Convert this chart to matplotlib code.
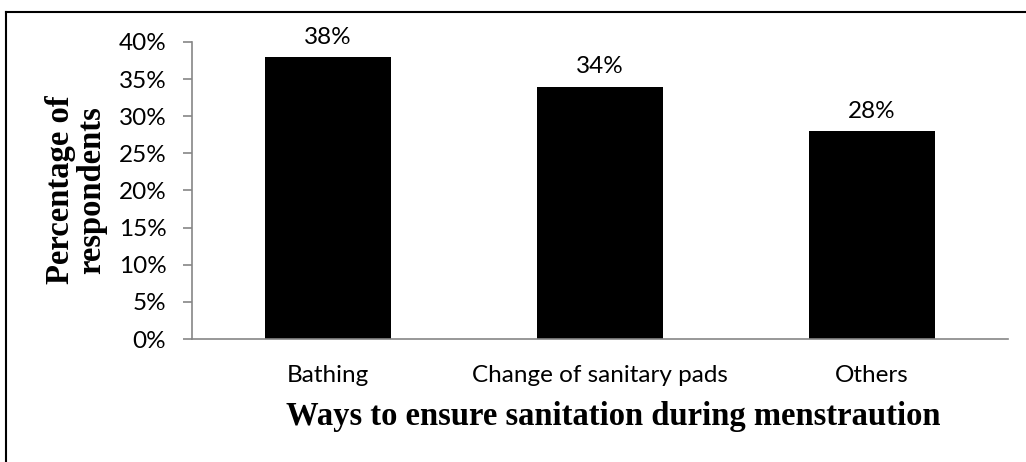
import matplotlib
matplotlib.use("Agg")
import matplotlib.pyplot as plt
from matplotlib.lines import Line2D

categories = ["Bathing", "Change of sanitary pads", "Others"]
values = [38, 34, 28]
yticks = [0, 5, 10, 15, 20, 25, 30, 35, 40]
ytick_labels = [f"{v}%" for v in yticks]

W, H = 1026, 462
fig = plt.figure(figsize=(W / 100, H / 100), dpi=100)
ax = fig.add_axes([192 / W, 1 - 339 / H, (1008 - 192) / W, (339 - 42) / H])

x = list(range(len(categories)))
bars = ax.bar(x, values, width=0.46, color="black")
ax.set_xlim(-0.5, len(categories) - 0.5)
ax.set_ylim(0, 40)
ax.set_yticks(yticks)
ax.set_yticklabels(ytick_labels)
ax.set_xticks(x)
ax.set_xticklabels(categories)

fam = ["Lato", "DejaVu Sans"]
fs = 17.5
for lab in ax.get_yticklabels() + ax.get_xticklabels():
    lab.set_fontfamily(fam)
    lab.set_fontsize(fs)

for b, v in zip(bars, values):
    ax.annotate(f"{v}%", (b.get_x() + b.get_width() / 2, v), xytext=(0, 9.4),
                textcoords="offset points", ha="center", va="baseline",
                family=fam, fontsize=fs)

for s in ["top", "right"]:
    ax.spines[s].set_visible(False)
for s in ["left", "bottom"]:
    ax.spines[s].set_color("#868686")
    ax.spines[s].set_linewidth(1.2)
ax.tick_params(axis="y", direction="out", length=6.5, width=1.2, color="#868686", pad=12)
ax.tick_params(axis="x", length=0, pad=19)

fig.text(76.5 / W, 1 - 190 / H, "Percentage of\nrespondents", family=["Liberation Serif"],
         fontweight="bold", fontsize=23.5, rotation=90, ha="center", va="center",
         linespacing=1.0, multialignment="center")
fig.text(613 / W, 1 - 425 / H, "Ways to ensure sanitation during menstraution",
         family=["Liberation Serif"], fontweight="bold", fontsize=23.5, ha="center", va="baseline")

# outer frame (left and top edges)
fig.add_artist(Line2D([6 / W, 6 / W], [0, 1 - 12 / H], transform=fig.transFigure,
                      color="black", linewidth=1.5))
fig.add_artist(Line2D([6 / W, 1], [1 - 12 / H, 1 - 12 / H], transform=fig.transFigure,
                      color="black", linewidth=1.5))

fig.savefig("out.png", dpi=100)
